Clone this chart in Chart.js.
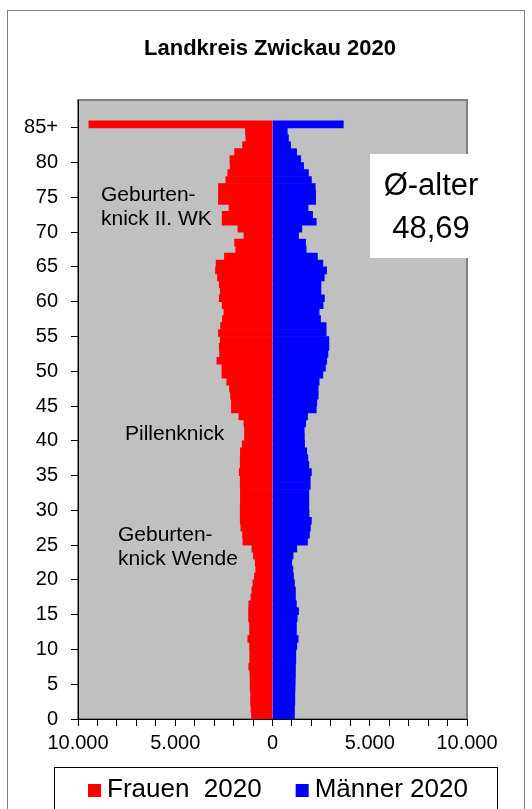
<!DOCTYPE html>
<html>
<head>
<meta charset="utf-8">
<title>Landkreis Zwickau 2020</title>
<script src="https://cdn.jsdelivr.net/npm/chart.js@4.4.1/dist/chart.umd.min.js"></script>
<style>
    html, body { margin: 0; padding: 0; background: #fff; }
    #wrap { width: 532px; height: 809px; }
</style>
</head>
<body>
<div id="wrap"><canvas id="pyramidChart" width="532" height="809"></canvas></div>
<script>
// Altersjahre 0 .. 85+ (85+ ist die Sammelgruppe)
const ageLabels = ['0', '1', '2', '3', '4', '5', '6', '7', '8', '9',
    '10', '11', '12', '13', '14', '15', '16', '17', '18', '19',
    '20', '21', '22', '23', '24', '25', '26', '27', '28', '29',
    '30', '31', '32', '33', '34', '35', '36', '37', '38', '39',
    '40', '41', '42', '43', '44', '45', '46', '47', '48', '49',
    '50', '51', '52', '53', '54', '55', '56', '57', '58', '59',
    '60', '61', '62', '63', '64', '65', '66', '67', '68', '69',
    '70', '71', '72', '73', '74', '75', '76', '77', '78', '79',
    '80', '81', '82', '83', '84', '85+'];

// Frauen 2020, je Altersjahr
const women = [1080, 1110, 1130, 1130, 1150, 1150, 1160, 1220, 1170, 1170,
    1180, 1270, 1180, 1180, 1230, 1230, 1220, 1110, 1060, 1010,
    930, 860, 890, 980, 1060, 1520, 1540, 1630, 1660, 1660,
    1660, 1650, 1650, 1660, 1660, 1710, 1660, 1660, 1650, 1560,
    1440, 1440, 1470, 1730, 2110, 2110, 2160, 2210, 2350, 2600,
    2600, 2860, 2720, 2740, 2690, 2780, 2670, 2570, 2500, 2590,
    2740, 2690, 2740, 2830, 2930, 2900, 2470, 1890, 1950, 1470,
    1780, 2590, 2590, 2230, 2780, 2780, 2780, 2400, 2300, 2180,
    2190, 1950, 1540, 1370, 1390, 9440];

// Männer 2020, je Altersjahr
const men = [1130, 1130, 1150, 1150, 1160, 1170, 1180, 1180, 1200, 1200,
    1250, 1320, 1230, 1230, 1270, 1340, 1230, 1180, 1180, 1130,
    1080, 1050, 990, 1060, 1250, 1800, 1900, 1950, 2000, 1880,
    1870, 1870, 1870, 1940, 1940, 2000, 1870, 1820, 1760, 1650,
    1640, 1630, 1710, 1800, 2250, 2280, 2350, 2350, 2400, 2590,
    2720, 2790, 2850, 2900, 2900, 2760, 2760, 2470, 2400, 2600,
    2670, 2490, 2490, 2660, 2780, 2590, 2310, 1730, 1700, 1340,
    1510, 2250, 2060, 1830, 2220, 2220, 2200, 2000, 1850, 1600,
    1450, 1240, 930, 820, 760, 3640];

// Achsenbeschriftung
const yTickValues = [0, 5, 10, 15, 20, 25, 30, 35, 40, 45, 50, 55, 60, 65, 70, 75, 80, 85];
const xTickLabelValues = [-10000, -5000, 0, 5000, 10000];

const FONT = 'Arial, "Liberation Sans", sans-serif';

function formatThousands(v) {
    return String(Math.abs(v)).replace(/\B(?=(\d{3})+(?!\d))/g, '.');
}

// Hintergrund, Rahmen, Texte und Legende wie in der Excel-Vorlage
const excelFrame = {
    id: 'excelFrame',
    beforeDraw(chart) {
        const { ctx, chartArea: a } = chart;
        ctx.save();
        ctx.fillStyle = '#ffffff';
        ctx.fillRect(0, 0, chart.width, chart.height);
        // äußerer Rahmen
        ctx.strokeStyle = '#808080';
        ctx.lineWidth = 1;
        ctx.strokeRect(7.5, 10.5, 517, 830);
        // Zeichenfläche
        ctx.fillStyle = '#c0c0c0';
        ctx.fillRect(a.left, a.top, a.right - a.left, a.bottom - a.top);
        ctx.strokeStyle = '#808080';
        ctx.lineWidth = 2;
        ctx.strokeRect(a.left, a.top, a.right - a.left, a.bottom - a.top);
        ctx.restore();
    },
    afterDraw(chart) {
        const { ctx } = chart;
        ctx.save();
        ctx.fillStyle = '#000';

        // Titel
        ctx.font = 'bold 22px ' + FONT;
        ctx.textAlign = 'center';
        ctx.textBaseline = 'middle';
        ctx.fillText('Landkreis Zwickau 2020', 270, 49);

        // Anmerkungen
        ctx.font = '21px ' + FONT;
        ctx.textAlign = 'left';
        ctx.textBaseline = 'alphabetic';
        ctx.fillText('Geburten-', 101, 201);
        ctx.fillText('knick II. WK', 101, 225);
        ctx.fillText('Pillenknick', 125, 440);
        ctx.fillText('Geburten-', 118, 541);
        ctx.fillText('knick Wende', 118, 565);

        // Durchschnittsalter
        ctx.fillStyle = '#ffffff';
        ctx.fillRect(370, 154, 125, 104);
        ctx.fillStyle = '#000';
        ctx.font = '31px ' + FONT;
        ctx.textAlign = 'center';
        ctx.fillText('Ø-alter', 431, 195);
        ctx.fillText('48,69', 431, 238);

        // Legende
        ctx.strokeStyle = '#000';
        ctx.lineWidth = 1;
        ctx.strokeRect(54.5, 767.5, 443, 60);
        ctx.font = '26px ' + FONT;
        ctx.textAlign = 'left';
        let x = 88;
        chart.data.datasets.forEach((ds) => {
            ctx.fillStyle = ds.backgroundColor;
            ctx.fillRect(x, 784, 13, 13);
            x += 19;
            ctx.fillStyle = '#000';
            ctx.fillText(ds.label, x, 797);
            x += ctx.measureText(ds.label).width + 34;
        });
        ctx.restore();
    }
};

const ctx = document.getElementById('pyramidChart');

const pyramid = new Chart(ctx, {
    type: 'bar',
    data: {
        datasets: [{
            label: 'Frauen  2020',
            data: women.map((v, i) => ({ x: -v, y: i + 0.5 })),
            backgroundColor: '#ff0000',
            borderWidth: 0,
            barPercentage: 1,
            categoryPercentage: 1
        }, {
            label: 'Männer 2020',
            data: men.map((v, i) => ({ x: v, y: i + 0.5 })),
            backgroundColor: '#0000ff',
            borderWidth: 0,
            barPercentage: 1,
            categoryPercentage: 1
        }]
    },
    options: {
        indexAxis: 'y',
        responsive: false,
        animation: false,
        layout: { padding: { left: 0, top: 100, right: 65, bottom: 0 } },
        plugins: {
            legend: { display: false },
            title: { display: false },
            tooltip: { enabled: false }
        },
        scales: {
            x: {
                type: 'linear',
                min: -10000,
                max: 10000,
                stacked: true,
                afterFit: (scale) => { scale.height = 90; },
                ticks: {
                    stepSize: 1000,
                    autoSkip: false,
                    maxRotation: 0,
                    padding: 5,
                    color: '#000',
                    font: { family: FONT, size: 20 },
                    callback: (v) => xTickLabelValues.includes(v) ? formatThousands(v) : ''
                },
                grid: { offset: false, drawOnChartArea: false, drawTicks: true, tickLength: 7, tickColor: '#000' },
                border: { display: true, color: '#000', width: 1 }
            },
            y: {
                type: 'linear',
                min: 0,
                max: 89,
                offset: false,
                stacked: true,
                afterFit: (scale) => { scale.width = 78; },
                afterBuildTicks: (scale) => {
                    scale.ticks = yTickValues.map(v => ({ value: v }));
                },
                ticks: {
                    padding: 13,
                    color: '#000',
                    font: { family: FONT, size: 20 },
                    callback: (v) => ageLabels[v]
                },
                grid: { offset: false, drawOnChartArea: false, drawTicks: true, tickLength: 7, tickColor: '#000' },
                border: { display: true, color: '#000', width: 1 }
            }
        }
    },
    plugins: [excelFrame]
});
</script>
</body>
</html>
